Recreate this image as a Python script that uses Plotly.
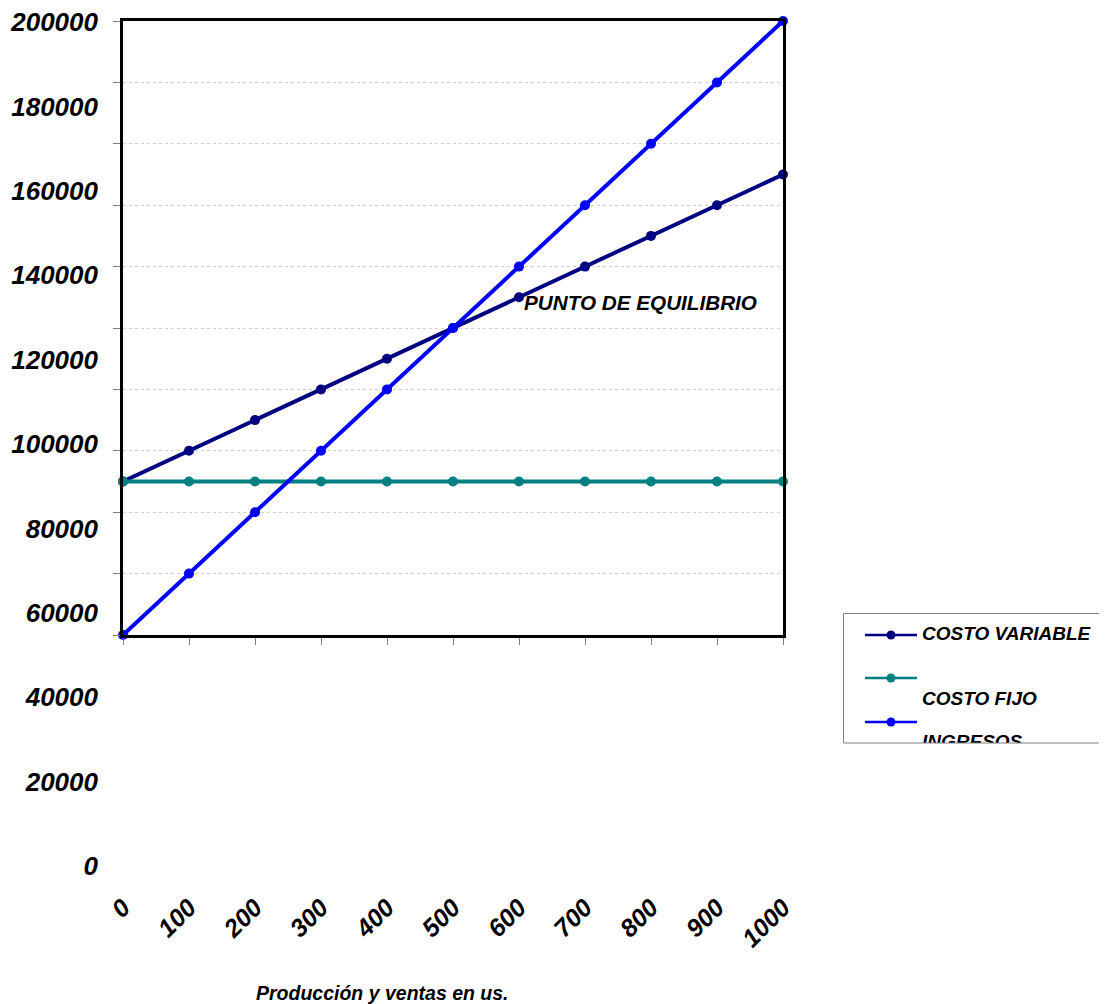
import plotly.graph_objects as go

# ---- data ----
unidades = [0, 100, 200, 300, 400, 500, 600, 700, 800, 900, 1000]
costo_variable = [50000, 60000, 70000, 80000, 90000, 100000, 110000, 120000, 130000, 140000, 150000]
costo_fijo = [50000, 50000, 50000, 50000, 50000, 50000, 50000, 50000, 50000, 50000, 50000]
ingresos = [0, 20000, 40000, 60000, 80000, 100000, 120000, 140000, 160000, 180000, 200000]

y_tick_vals = [0, 20000, 40000, 60000, 80000, 100000, 120000, 140000, 160000, 180000, 200000]
y_tick_text = ["0", "20000", "40000", "60000", "80000", "100000", "120000",
               "140000", "160000", "180000", "200000"]
x_tick_vals = unidades
x_tick_text = ["0", "100", "200", "300", "400", "500", "600", "700", "800", "900", "1000"]

series_names = ["COSTO VARIABLE", "COSTO FIJO", "INGRESOS"]
series_colors = ["#000080", "#008080", "#0000FF"]

W, H = 1107, 1004
OFF = 7  # page body offset
FONT = "Liberation Sans, Arial, sans-serif"


def px_x(p):
    return (p - OFF) / W


def px_y(p):
    return 1 - (p - OFF) / H


fig = go.Figure()

# invisible trace carrying the (displaced) label axes
fig.add_trace(go.Scatter(
    x=[unidades[0], unidades[-1]], y=[y_tick_vals[0], y_tick_vals[-1]],
    mode="markers", marker=dict(opacity=0), showlegend=False,
    hoverinfo="skip", xaxis="x2", yaxis="y2"))

# main series
for name, vals, col in zip(series_names, [costo_variable, costo_fijo, ingresos], series_colors):
    fig.add_trace(go.Scatter(
        x=unidades, y=vals, name=name, mode="lines+markers",
        line=dict(color=col, width=4), marker=dict(color=col, size=10),
        cliponaxis=False, showlegend=False, hoverinfo="x+y+name",
        xaxis="x", yaxis="y"))

# custom legend (subplot x3/y3, coordinates in pixels)
leg_rows = [634, 677, 721]
leg_text_rows = [634, 699, 742]
for name, col, ly, ty in zip(series_names, series_colors, leg_rows, leg_text_rows):
    fig.add_trace(go.Scatter(
        x=[864, 916], y=[ly, ly], mode="lines", line=dict(color=col, width=2.5),
        showlegend=False, hoverinfo="skip", xaxis="x3", yaxis="y3"))
    fig.add_trace(go.Scatter(
        x=[890], y=[ly], mode="markers", marker=dict(color=col, size=9),
        showlegend=False, hoverinfo="skip", xaxis="x3", yaxis="y3"))
    fig.add_trace(go.Scatter(
        x=[921], y=[ty], mode="text", text=[name], textposition="middle right",
        textfont=dict(family=FONT, size=19, color="black", weight="bold", style="italic"),
        cliponaxis=True, showlegend=False, hoverinfo="skip", xaxis="x3", yaxis="y3"))

x_dom = [px_x(122), px_x(782)]

fig.update_layout(
    width=W, height=H,
    margin=dict(l=0, r=0, t=0, b=0, autoexpand=False),
    paper_bgcolor="white", plot_bgcolor="rgba(0,0,0,0)",
    showlegend=False,
    xaxis=dict(
        domain=x_dom, range=[0, 1000], anchor="y", automargin=False,
        tickvals=x_tick_vals, showticklabels=False,
        ticks="outside", ticklen=7, tickcolor="#808080", tickwidth=1,
        showgrid=False, zeroline=False,
        showline=True, linecolor="black", linewidth=2.5, mirror=True,
    ),
    yaxis=dict(
        domain=[px_y(634), px_y(20)], range=[0, 200000], anchor="x", automargin=False,
        tickvals=y_tick_vals, showticklabels=False,
        ticks="outside", ticklen=7, tickcolor="#808080", tickwidth=1,
        showgrid=True, gridcolor="#d0d0d0", griddash="dot", gridwidth=1,
        zeroline=False,
        showline=True, linecolor="black", linewidth=2.5, mirror=True,
    ),
    xaxis2=dict(
        domain=x_dom, range=[0, 1000], anchor="free", position=px_y(886), automargin=False,
        tickvals=x_tick_vals, ticktext=x_tick_text, tickangle=-45,
        ticklabeloverflow="allow",
        tickfont=dict(family=FONT, size=25, color="black", weight="bold", style="italic"),
        ticks="", showgrid=False, zeroline=False, showline=False,
    ),
    yaxis2=dict(
        domain=[px_y(865), px_y(21)], range=[0, 200000], anchor="free", position=px_x(97),
        automargin=False, ticklabeloverflow="allow",
        tickvals=y_tick_vals, ticktext=y_tick_text,
        tickfont=dict(family=FONT, size=26, color="black", weight="bold", style="italic"),
        ticks="", showgrid=False, zeroline=False, showline=False,
    ),
    xaxis3=dict(domain=[px_x(842), 1.0], range=[842, 1107 + OFF], anchor="y3", visible=False),
    yaxis3=dict(domain=[px_y(742), px_y(612)], range=[742, 612], anchor="x3", visible=False),
    shapes=[dict(type="rect", xref="paper", yref="paper",
                 x0=px_x(842.5), x1=1.02, y0=px_y(742), y1=px_y(612.5),
                 line=dict(color="#808080", width=1), fillcolor="rgba(0,0,0,0)")],
    annotations=[
        dict(text="PUNTO DE EQUILIBRIO", xref="paper", yref="paper",
             x=px_x(521), y=px_y(302), xanchor="left", yanchor="middle", showarrow=False,
             font=dict(family=FONT, size=20.7, color="black", weight="bold", style="italic")),
        dict(text="Producción y ventas en us.", xref="paper", yref="paper",
             x=px_x(381), y=px_y(992), xanchor="center", yanchor="middle", showarrow=False,
             font=dict(family=FONT, size=19.5, color="black", weight="bold", style="italic")),
    ],
)

fig.write_html("out.html")
